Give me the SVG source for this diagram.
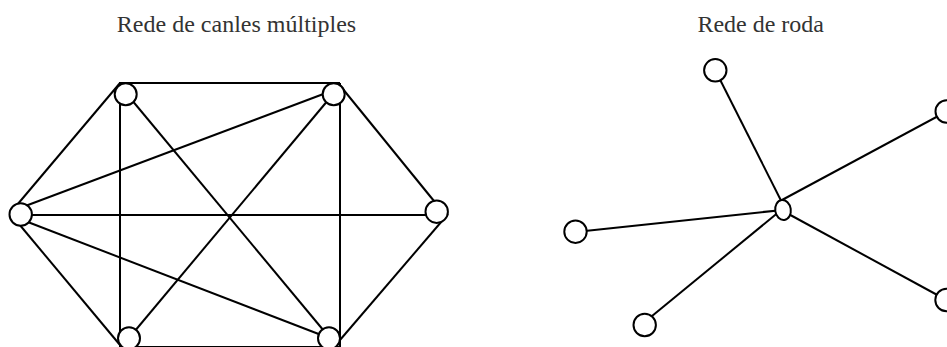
<svg xmlns="http://www.w3.org/2000/svg" width="947" height="347" viewBox="0 0 947 347">
<style>
.t{font-family:"Liberation Serif","Times New Roman",serif;font-size:24px;fill:#333;text-anchor:middle}
.e{stroke:#000;stroke-width:2;fill:none;stroke-linecap:butt}
.n{stroke:#000;stroke-width:2;fill:#fff}
</style>
<rect width="947" height="347" fill="#fff"/>
<text class="t" x="236.5" y="32">Rede de canles múltiples</text>
<text class="t" x="760.7" y="32">Rede de roda</text>
<g id="connectors">
<line class="e" x1="119" y1="83" x2="340" y2="83"/>
<line class="e" x1="119" y1="347" x2="340" y2="347"/>
<line class="e" x1="120" y1="83" x2="120" y2="347"/>
<line class="e" x1="340" y1="83" x2="340" y2="347"/>
<line class="e" x1="120" y1="83" x2="17" y2="205"/>
<line class="e" x1="19" y1="224" x2="120" y2="345"/>
<line class="e" x1="338" y1="83" x2="447" y2="217"/>
<line class="e" x1="448" y1="214" x2="340" y2="340"/>
<line class="e" x1="20" y1="215" x2="437" y2="215"/>
<line class="e" x1="20" y1="208" x2="334" y2="90"/>
<line class="e" x1="20" y1="219" x2="329" y2="338"/>
<line class="e" x1="126" y1="93" x2="329" y2="337"/>
<line class="e" x1="334" y1="93" x2="129" y2="338"/>
<line class="e" x1="715.3" y1="70.3" x2="783" y2="204.5"/>
<line class="e" x1="782" y1="200" x2="946.7" y2="111.5"/>
<line class="e" x1="575.5" y1="231.9" x2="783" y2="209.9"/>
<line class="e" x1="644.7" y1="322" x2="780" y2="211"/>
<line class="e" x1="783" y1="211" x2="946.5" y2="300"/>
</g>
<g id="m1"><circle class="n" cx="125.7" cy="94.3" r="11"/></g>
<g id="m2"><circle class="n" cx="333.7" cy="94.3" r="11"/></g>
<g id="m3"><circle class="n" cx="20.7" cy="214.5" r="11.2"/></g>
<g id="m4"><circle class="n" cx="436.7" cy="211.7" r="11.2"/></g>
<g id="m5"><circle class="n" cx="129" cy="338.3" r="11"/></g>
<g id="m6"><circle class="n" cx="329" cy="338.3" r="11"/></g>
<g id="r1"><circle class="n" cx="715.3" cy="70.3" r="11.2"/></g>
<g id="r2"><circle class="n" cx="946.7" cy="111.5" r="11.2"/></g>
<g id="r3"><circle class="n" cx="575.5" cy="231.7" r="11.2"/></g>
<g id="r4"><circle class="n" cx="644.7" cy="325" r="11.2"/></g>
<g id="r5"><circle class="n" cx="946.5" cy="300" r="11.2"/></g>
<g id="hub"><ellipse class="n" cx="783" cy="210" rx="7.8" ry="10" transform="rotate(-8 783 210)"/></g>
</svg>
